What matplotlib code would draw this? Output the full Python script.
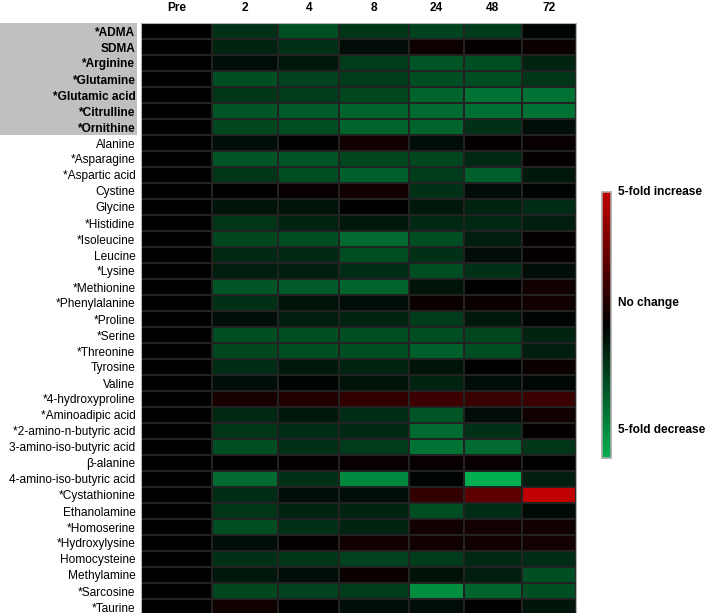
import numpy as np
import matplotlib
matplotlib.use('Agg')
import matplotlib.pyplot as plt
from matplotlib.colors import LinearSegmentedColormap
from matplotlib.patches import Rectangle
from matplotlib.transforms import blended_transform_factory

plt.rcParams['font.family'] = ['Liberation Sans', 'DejaVu Sans']

timepoints = ['Pre', '2', '4', '8', '24', '48', '72']
metabolites = ['*ADMA', 'SDMA', '*Arginine', '*Glutamine', '*Glutamic acid',
               '*Citrulline', '*Ornithine', 'Alanine', '*Asparagine',
               '*Aspartic acid', 'Cystine', 'Glycine', '*Histidine',
               '*Isoleucine', 'Leucine', '*Lysine', '*Methionine',
               '*Phenylalanine', '*Proline', '*Serine', '*Threonine',
               'Tyrosine', 'Valine', '*4-hydroxyproline', '*Aminoadipic acid',
               '*2-amino-n-butyric acid', '3-amino-iso-butyric acid',
               'β-alanine', '4-amino-iso-butyric acid', '*Cystathionine',
               'Ethanolamine', '*Homoserine', '*Hydroxylysine', 'Homocysteine',
               'Methylamine', '*Sarcosine', '*Taurine']
n_bold = 7  # urea cycle / arginine group, highlighted

# scaled change: -1 = 5-fold decrease, 0 = no change, +1 = 5-fold increase
t_pre = [0.0] * len(metabolites)
t_2 = [-0.28, -0.20, -0.08, -0.45, -0.30, -0.48, -0.40, -0.08, -0.48, -0.30,
       0.01, -0.12, -0.30, -0.40, -0.23, -0.17, -0.48, -0.28, -0.08, -0.43,
       -0.40, -0.25, -0.08, 0.13, -0.23, -0.30, -0.45, 0.01, -0.60, -0.25,
       -0.30, -0.43, -0.08, -0.28, -0.14, -0.40, 0.08]
t_4 = [-0.45, -0.28, -0.14, -0.37, -0.34, -0.51, -0.43, 0.0, -0.48, -0.43,
       0.04, -0.11, -0.20, -0.43, -0.23, -0.17, -0.51, -0.11, -0.17, -0.45,
       -0.44, -0.14, -0.03, 0.18, -0.14, -0.25, -0.28, 0.02, -0.28, -0.08,
       -0.20, -0.28, 0.03, -0.30, -0.08, -0.37, 0.0]
t_8 = [-0.30, -0.07, -0.34, -0.34, -0.40, -0.57, -0.57, 0.08, -0.40, -0.54,
       0.08, -0.01, -0.14, -0.60, -0.43, -0.25, -0.57, -0.08, -0.20, -0.45,
       -0.45, -0.20, -0.11, 0.26, -0.25, -0.23, -0.34, 0.04, -0.77, -0.08,
       -0.20, -0.20, 0.08, -0.37, 0.05, -0.34, -0.08]
t_24 = [-0.38, 0.07, -0.48, -0.45, -0.57, -0.60, -0.57, -0.08, -0.40, -0.34,
        -0.28, -0.14, -0.23, -0.43, -0.28, -0.43, -0.11, 0.05, -0.34, -0.43,
        -0.54, -0.11, -0.20, 0.32, -0.48, -0.60, -0.65, 0.04, -0.03, 0.26,
        -0.43, 0.08, 0.09, -0.34, -0.10, -0.80, -0.08]
t_48 = [-0.33, 0.03, -0.45, -0.43, -0.65, -0.63, -0.28, 0.03, -0.23, -0.54,
        -0.07, -0.20, -0.23, -0.17, -0.07, -0.28, 0.0, 0.06, -0.14, -0.40,
        -0.43, 0.0, -0.08, 0.29, -0.07, -0.28, -0.60, 0.04, -1.0, 0.49,
        -0.25, 0.10, 0.09, -0.23, -0.17, -0.57, 0.01]
t_72 = [-0.03, 0.06, -0.20, -0.30, -0.65, -0.65, -0.08, 0.04, 0.03, -0.14,
        -0.03, -0.25, -0.17, 0.03, 0.03, -0.08, 0.08, 0.08, -0.03, -0.20,
        -0.17, 0.06, -0.04, 0.30, 0.08, 0.03, -0.30, 0.0, -0.17, 1.0,
        -0.06, 0.08, 0.10, -0.25, -0.45, -0.45, -0.11]

col_widths = [71, 66, 61, 69, 55, 58, 54]

data = np.column_stack([t_pre, t_2, t_4, t_8, t_24, t_48, t_72])
n = len(metabolites)

cmap = LinearSegmentedColormap.from_list(
    'gkr', [(0.0, '#00b050'), (0.5, '#000000'), (1.0, '#c00000')])

W, H = 708, 613
fig = plt.figure(figsize=(W / 100, H / 100), dpi=100)
ax = fig.add_axes([141 / W, 1 - 615 / H, 435 / W, 592 / H])

x_edges = np.concatenate([[0], np.cumsum(col_widths)])
y_edges = np.arange(n + 1)
mesh = ax.pcolormesh(x_edges, y_edges, data, cmap=cmap, vmin=-1, vmax=1,
                     edgecolors='#222222', linewidth=0.3)
ax.set_xlim(0, x_edges[-1])
ax.set_ylim(n, 0)

fs = 8.6
ax.set_yticks(np.arange(n) + 0.5)
ax.set_yticklabels(metabolites, fontsize=fs)
for i, lab in enumerate(ax.get_yticklabels()):
    if i < n_bold:
        lab.set_fontweight('bold')
ax.tick_params(axis='y', length=0, pad=4)

ax.xaxis.tick_top()
ax.set_xticks((x_edges[:-1] + x_edges[1:]) / 2)
ax.set_xticklabels(timepoints, fontsize=fs, fontweight='bold')
ax.tick_params(axis='x', length=0, pad=6.5)

for s in ax.spines.values():
    s.set_color('#b4b4b4')
    s.set_linewidth(0.8)
ax.spines['bottom'].set_visible(False)

# grey box behind the highlighted group labels
tr = blended_transform_factory(fig.transFigure, ax.transData)
fig.add_artist(Rectangle((0, 0), 137 / W, n_bold, transform=tr,
                         facecolor='#c0c0c0', edgecolor='none', zorder=-1))

# colour bar
cax = fig.add_axes([602 / W, 1 - 458 / H, 9 / W, 266 / H])
cb = fig.colorbar(mesh, cax=cax)
cb.set_ticks([])
cb.outline.set_edgecolor('#a8a8a8')
cb.outline.set_linewidth(1.2)

fig.text(618 / W, 1 - 192 / H, '5-fold increase', fontsize=fs,
         fontweight='bold', va='center')
fig.text(618 / W, 1 - 303 / H, 'No change', fontsize=fs,
         fontweight='bold', va='center')
fig.text(618 / W, 1 - 430 / H, '5-fold decrease', fontsize=fs,
         fontweight='bold', va='center')

fig.savefig('out.png', dpi=100)
